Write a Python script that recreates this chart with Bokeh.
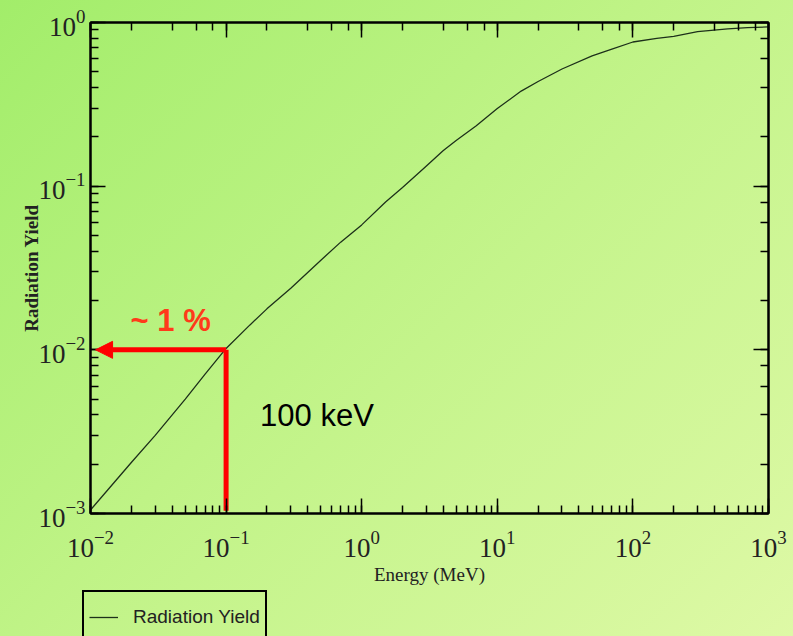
from bokeh.plotting import figure
from bokeh.layouts import column
from bokeh.models import (LogAxis, Legend, LegendItem, Arrow, NormalHead,
                          ColumnDataSource, CustomJSTickFormatter)
from bokeh.core.properties import value
from bokeh.embed import file_html
from bokeh.resources import INLINE

# ---- data ----
energy_mev = [0.01, 0.02, 0.03, 0.05, 0.07, 0.1, 0.15, 0.2, 0.3, 0.5, 0.7,
              1, 1.5, 2, 3, 4, 5, 7, 10, 15, 20, 30, 50, 70, 100, 150, 200,
              300, 500, 700, 1000]
radiation_yield = [0.00105, 0.00205, 0.0030, 0.0050, 0.0071, 0.0102, 0.0142,
                   0.0178, 0.0238, 0.0353, 0.0455, 0.058, 0.080, 0.098, 0.133,
                   0.165, 0.191, 0.234, 0.298, 0.381, 0.436, 0.52, 0.625,
                   0.687, 0.76, 0.80, 0.822, 0.88, 0.915, 0.93, 0.94]

x_range = (1e-2, 1e3)
y_range = (1e-3, 1e0)

marker_energy = 0.1      # 100 keV
marker_yield = 0.01      # ~1 %
arrow_tip_energy = 0.0109
vline_bottom_yield = 0.00104

pct_label = ["~ 1 %"]
pct_x = [0.039]
pct_y = [0.0151]
kev_label = ["100 keV"]
kev_x = [0.178]
kev_y = [0.00397]

series_name = "Radiation Yield"

TICK_FONT = "Liberation Serif"
CURVE_STYLE = dict(line_color="#1d301a", line_width=1.3)

p = figure(width=793, height=590, x_axis_type="log", y_axis_type="log",
           x_range=x_range, y_range=y_range, output_backend="svg",
           toolbar_location=None,
           min_border_left=90, min_border_top=22, min_border_right=25,
           min_border_bottom=77)

p.background_fill_alpha = 0
p.border_fill_alpha = 0
p.outline_line_color = "black"
p.outline_line_width = 2
p.grid.visible = False

xb = p.below[0]
yl = p.left[0]

blank = CustomJSTickFormatter(code="return ' '")
extra_top = LogAxis(formatter=blank)
extra_right = LogAxis(formatter=blank)
p.add_layout(extra_top, "above")
p.add_layout(extra_right, "right")

for ax in [xb, yl, extra_top, extra_right]:
    ax.axis_line_color = "black"
    ax.axis_line_width = 2
    ax.major_tick_in = 15
    ax.major_tick_out = 0
    ax.minor_tick_in = 8
    ax.minor_tick_out = 0
    ax.major_tick_line_width = 1.5
    ax.minor_tick_line_width = 1.5
    ax.major_tick_line_color = "black"
    ax.minor_tick_line_color = "black"
    ax.major_label_text_font = TICK_FONT
    ax.major_label_text_font_size = "27px"
    ax.major_label_text_color = "#222222"

for ax in [extra_top, extra_right]:
    ax.major_label_text_font_size = "1px"
    ax.major_label_text_alpha = 0
    ax.major_label_standoff = 0

xb.major_label_standoff = 17
yl.major_label_standoff = 5

xb.axis_label = "Energy (MeV)"
yl.axis_label = "Radiation Yield"
xb.axis_label_text_font = TICK_FONT
yl.axis_label_text_font = TICK_FONT
xb.axis_label_text_font_size = "19px"
yl.axis_label_text_font_size = "19px"
xb.axis_label_text_font_style = "normal"
yl.axis_label_text_font_style = "bold"
xb.axis_label_text_color = "#222222"
yl.axis_label_text_color = "#222222"
xb.axis_label_standoff = 4
yl.axis_label_standoff = -7

src = ColumnDataSource(dict(x=energy_mev, y=radiation_yield))
p.line("x", "y", source=src, **CURVE_STYLE)

# red annotation: vertical line and arrow
p.segment(x0=[marker_energy], y0=[vline_bottom_yield], x1=[marker_energy],
          y1=[marker_yield], line_color="#ff0000", line_width=5)
p.add_layout(Arrow(end=NormalHead(size=17, fill_color="#ff0000",
                                  line_color="#ff0000"),
                   x_start=marker_energy, y_start=marker_yield,
                   x_end=arrow_tip_energy, y_end=marker_yield,
                   line_color="#ff0000", line_width=5))

p.text(x=pct_x, y=pct_y, text=pct_label, text_font=value("Liberation Sans"),
       text_font_size="31px", text_font_style="bold", text_color="#ff3a1a",
       text_align="center", text_baseline="alphabetic")
p.text(x=kev_x, y=kev_y, text=kev_label, text_font=value("Liberation Sans"),
       text_font_size="31px", text_color="black",
       text_align="left", text_baseline="alphabetic")

# ---- legend strip below the chart ----
q = figure(width=793, height=46, output_backend="svg", toolbar_location=None,
           x_range=(0, 1), y_range=(10, 20), x_axis_location=None,
           y_axis_location=None, min_border=0)
q.background_fill_alpha = 0
q.border_fill_alpha = 0
q.outline_line_color = None
q.grid.visible = False

legend_x = 0
if "frame_align" in q.properties():
    q.frame_align = False
    legend_x = 82

legend_curve = q.line(energy_mev, radiation_yield, **CURVE_STYLE)
legend = Legend(items=[LegendItem(label=series_name,
                                  renderers=[legend_curve])],
                location=(legend_x, -8), orientation="vertical",
                label_text_font="Liberation Sans", label_text_font_size="19px",
                label_text_color="#222222", border_line_color="black",
                border_line_alpha=1.0, border_line_width=2,
                background_fill_alpha=0,
                glyph_width=29, glyph_height=40, label_standoff=15,
                padding=5, margin=0, spacing=0)
q.add_layout(legend, "center")

layout = column(p, q, spacing=0)

html = file_html(layout, INLINE, title="Radiation Yield")
style = ("<style>html{min-height:100%;background:linear-gradient(135deg,"
         "#a2ed6a 0%,#bff386 45%,#def9a6 100%) fixed;}"
         "body{background:transparent;}</style>")
html = html.replace("</head>", style + "</head>", 1)
open("out.html", "w").write(html)
